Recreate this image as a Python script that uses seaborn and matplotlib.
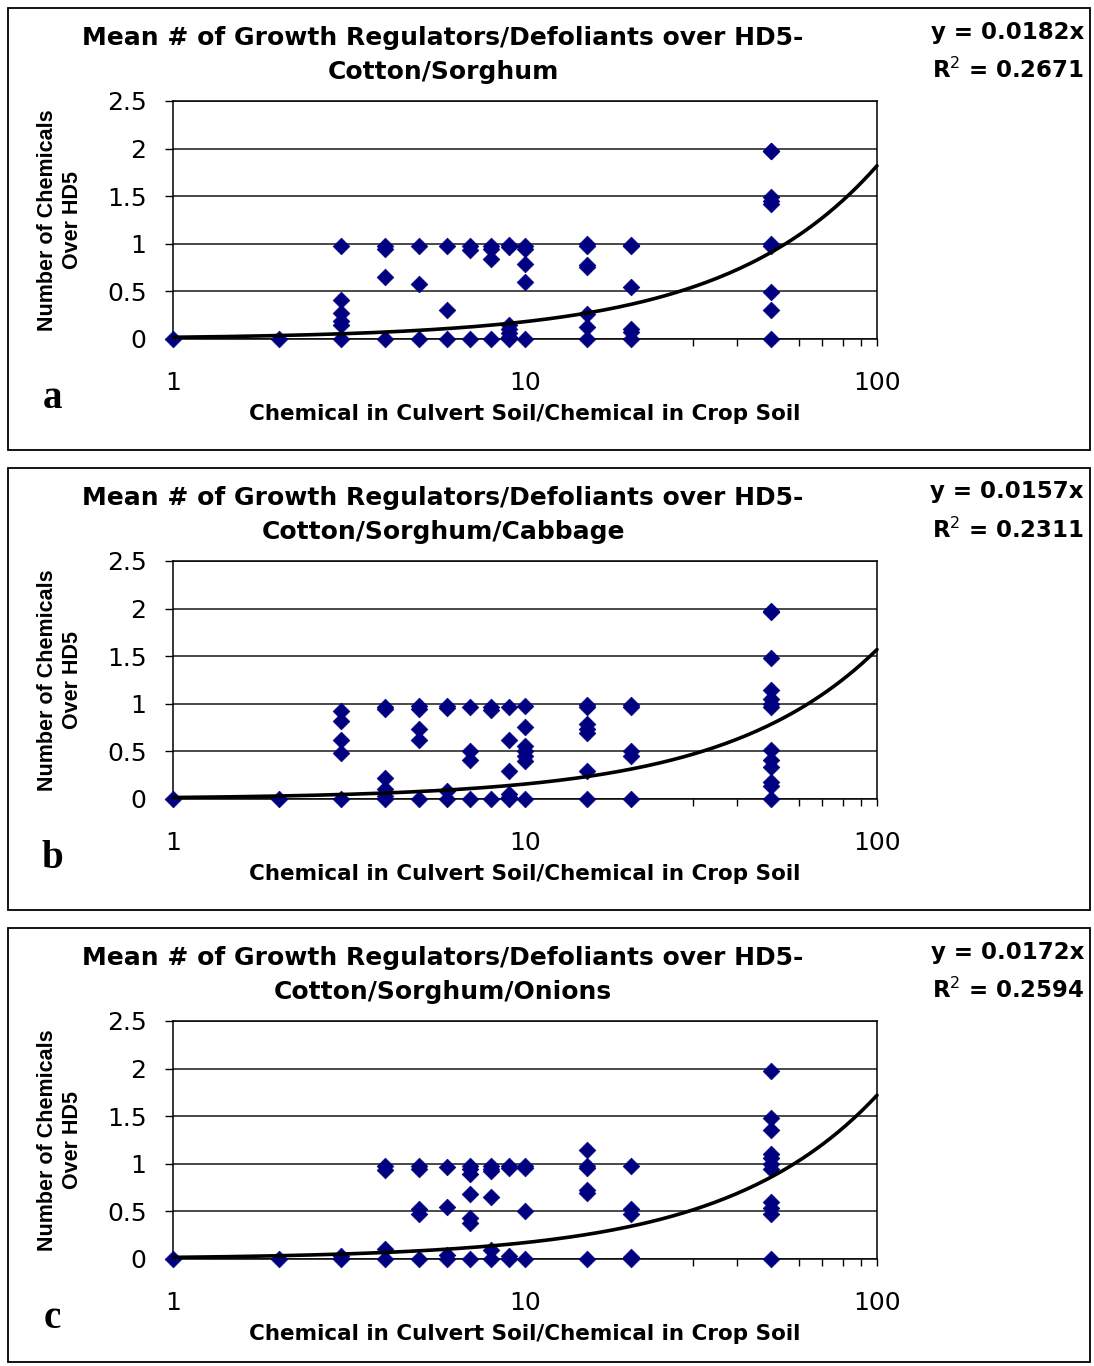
import numpy as np
import pandas as pd
import matplotlib
matplotlib.use("Agg")
import matplotlib.pyplot as plt
import matplotlib.ticker as mticker
from matplotlib.patches import Rectangle
import seaborn as sns

# ---- data: ratio (culvert soil / crop soil) -> observed mean counts over HD5 ----
counts_a = {
    1: [0], 2: [0],
    3: [0.98, 0.41, 0.27, 0.19, 0.15, 0],
    4: [0.98, 0.95, 0.65, 0],
    5: [0.98, 0.58, 0],
    6: [0.98, 0.30, 0],
    7: [0.98, 0.94, 0],
    8: [0.98, 0.95, 0.84, 0],
    9: [0.99, 0.97, 0.15, 0.10, 0.06, 0.02, 0],
    10: [0.98, 0.95, 0.79, 0.60, 0],
    15: [1.00, 0.98, 0.78, 0.76, 0.26, 0.13, 0],
    20: [0.99, 0.98, 0.55, 0.10, 0.07, 0],
    50: [1.98, 1.97, 1.49, 1.45, 1.42, 1.00, 0.98, 0.49, 0.30, 0],
}
counts_b = {
    1: [0], 2: [0],
    3: [0.92, 0.82, 0.62, 0.48, 0],
    4: [0.97, 0.95, 0.22, 0.10, 0.03, 0],
    5: [0.98, 0.95, 0.74, 0.62, 0],
    6: [0.98, 0.96, 0.08, 0],
    7: [0.97, 0.50, 0.41, 0],
    8: [0.97, 0.94, 0],
    9: [0.97, 0.62, 0.29, 0.05, 0.02, 0],
    10: [0.98, 0.76, 0.56, 0.50, 0.45, 0.40, 0],
    15: [0.99, 0.97, 0.79, 0.74, 0.69, 0.29, 0],
    20: [0.99, 0.97, 0.50, 0.45, 0],
    50: [1.98, 1.96, 1.48, 1.15, 1.05, 1.00, 0.97, 0.51, 0.41, 0.34, 0.18, 0.14, 0],
}
counts_c = {
    1: [0], 2: [0],
    3: [0.03, 0],
    4: [0.98, 0.93, 0.11, 0],
    5: [0.98, 0.95, 0.53, 0.47, 0],
    6: [0.97, 0.55, 0.04, 0],
    7: [0.98, 0.95, 0.89, 0.68, 0.43, 0.38, 0],
    8: [0.98, 0.95, 0.92, 0.65, 0.09, 0],
    9: [0.98, 0.96, 0.03, 0],
    10: [0.98, 0.96, 0.50, 0],
    15: [1.15, 0.98, 0.96, 0.72, 0.69, 0],
    20: [0.98, 0.53, 0.47, 0.02, 0],
    50: [1.97, 1.48, 1.36, 1.10, 1.06, 1.00, 0.95, 0.60, 0.54, 0.47, 0],
}

subtitles = ["Cotton/Sorghum", "Cotton/Sorghum/Cabbage", "Cotton/Sorghum/Onions"]
slopes = [0.0182, 0.0157, 0.0172]
r_squared = ["0.2671", "0.2311", "0.2594"]
panel_letters = ["a", "b", "c"]
title_main = "Mean # of Growth Regulators/Defoliants over HD5-"
x_label = "Chemical in Culvert Soil/Chemical in Crop Soil"
y_label = "Number of Chemicals\nOver HD5"
y_ticks = [0, 0.5, 1, 1.5, 2, 2.5]
y_ticklabels = ["0", "0.5", "1", "1.5", "2", "2.5"]
x_ticks = [1, 10, 100]
x_ticklabels = ["1", "10", "100"]

sns.set_style("white")
plt.rcParams["font.family"] = ["DejaVu Sans"]
plt.rcParams.update({"text.color": "black", "axes.labelcolor": "black",
                     "xtick.color": "black", "ytick.color": "black"})

W, H = 1094, 1366
fig = plt.figure(figsize=(W / 100, H / 100), dpi=100)
fig.patch.set_facecolor("white")

MARKER = "#000080"
box_tops = [8, 468, 928]
box_bottoms = [450, 910, 1362]


def fx(px):
    return px / W


def fy(py):
    return 1 - py / H


for i, counts in enumerate([counts_a, counts_b, counts_c]):
    off = box_tops[i] - 8

    # panel frame
    fig.patches.append(Rectangle((fx(8), fy(box_bottoms[i])), fx(1082),
                                 (box_bottoms[i] - box_tops[i]) / H,
                                 transform=fig.transFigure, fill=False,
                                 edgecolor="black", lw=1.3, zorder=0))

    df = pd.DataFrame([(x, y) for x, ys in counts.items() for y in ys],
                      columns=["ratio", "count"])

    top, bottom = 101 + off, 339 + off
    ax = fig.add_axes([fx(173), fy(bottom), fx(704), (bottom - top) / H])
    ax.set_xscale("log")

    sns.scatterplot(data=df, x="ratio", y="count", ax=ax, marker="D",
                    color=MARKER, edgecolor=MARKER, linewidth=0.5, s=72,
                    clip_on=False, zorder=3, legend=False)

    xs = np.logspace(0, 2, 200)
    sns.lineplot(x=xs, y=slopes[i] * xs, ax=ax, color="black", lw=2.6,
                 zorder=4, clip_on=False)

    ax.set_xlim(1, 100)
    ax.set_ylim(0, 2.5)
    ax.set_yticks(y_ticks)
    ax.set_yticklabels(y_ticklabels)
    ax.set_xticks(x_ticks)
    ax.set_xticklabels(x_ticklabels)
    ax.xaxis.set_minor_locator(mticker.LogLocator(base=10, subs=np.arange(2, 10)))
    ax.xaxis.set_minor_formatter(mticker.NullFormatter())
    ax.yaxis.grid(True, color="#3a3a3a", lw=1.3)
    ax.xaxis.grid(False)
    ax.set_axisbelow(True)
    for sp in ax.spines.values():
        sp.set_visible(True)
        sp.set_color("black")
        sp.set_linewidth(1.1)
    ax.tick_params(axis="y", which="major", direction="out", length=6, width=1,
                   pad=13, labelsize=18, left=True, colors="black")
    ax.tick_params(axis="x", which="major", direction="out", length=5, width=1,
                   pad=18, labelsize=18, bottom=True, colors="black")
    ax.tick_params(axis="x", which="minor", direction="out", length=5, width=1,
                   bottom=True, colors="black")
    ax.set_xlabel("")
    ax.set_ylabel("")

    # titles and annotations
    fig.text(fx(443), fy(38 + off), title_main, ha="center", va="center",
             fontsize=18, fontweight="bold")
    fig.text(fx(443), fy(72 + off), subtitles[i], ha="center", va="center",
             fontsize=18, fontweight="bold")
    fig.text(fx(1084), fy(32 + off), f"y = {slopes[i]:.4f}x", ha="right",
             va="center", fontsize=16.5, fontweight="bold")
    fig.text(fx(1084), fy(70 + off), f"R$^{{2}}$ = {r_squared[i]}", ha="right",
             va="center", fontsize=16.5, fontweight="bold")
    fig.text(fx(525), fy(414 + off), x_label, ha="center", va="center",
             fontsize=15.5, fontweight="bold")
    fig.text(fx(60), fy(220 + off), y_label, ha="center", va="center",
             rotation=90, fontsize=15.5, fontweight="bold", linespacing=1.3,
             family=["Liberation Sans", "DejaVu Sans"])
    fig.text(fx(52), fy(398 + off), panel_letters[i], ha="center",
             va="center", fontsize=28, fontweight="bold",
             family=["Liberation Serif", "DejaVu Serif"])

fig.savefig("out.png", dpi=100, facecolor="white")
